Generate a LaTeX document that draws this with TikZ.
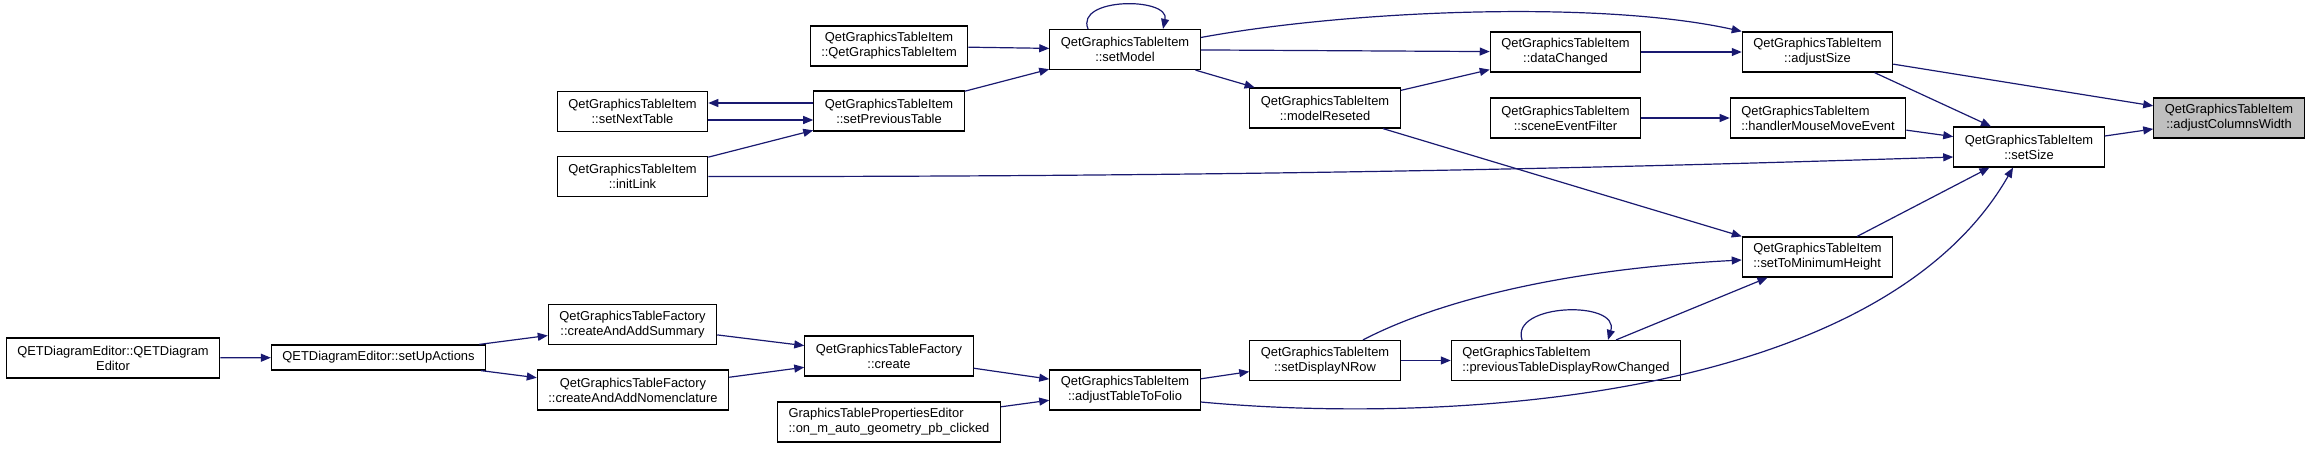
\documentclass[tikz,border=0pt]{standalone}
\usepackage{fontspec}
\setmainfont{Liberation Sans}
\usetikzlibrary{arrows.meta}
\definecolor{CallBlue}{RGB}{25,25,112}
\definecolor{CurGray}{RGB}{191,191,191}

\begin{document}
\begin{tikzpicture}[x=1pt, y=-1pt,
    fnbox/.style={draw=black, line width=1.2pt, fill=white, align=center,
        inner xsep=11pt, inner ysep=2pt, minimum height=40pt,
        font=\fontsize{12.9}{15}\selectfont},
    curbox/.style={fnbox, fill=CurGray},
    call/.style={CallBlue, line width=1.2pt, -{Triangle[length=10pt,width=8pt]}}]
    \useasboundingbox (0,0) rectangle (2311,448);

    % left part: the editor and the factory
    \node[fnbox] (qde) at (113,358) {QETDiagramEditor::QETDiagram\\Editor};
    \node[fnbox, minimum height=25pt] (sua) at (378.5,357.5) {QETDiagramEditor::setUpActions};
    \node[fnbox] (caas) at (632.5,324.5) {QetGraphicsTableFactory\\::createAndAddSummary};
    \node[fnbox] (caan) at (633,390) {QetGraphicsTableFactory\\::createAndAddNomenclature};
    \node[fnbox] (cre) at (889,356) {QetGraphicsTableFactory\\::create};
    \node[fnbox, align=left] (gtpe) at (889,422) {GraphicsTablePropertiesEditor\\::on\_m\_auto\_geometry\_pb\_clicked};
    \node[fnbox] (atf) at (1125,390) {QetGraphicsTableItem\\::adjustTableToFolio};
    \node[fnbox] (sdn) at (1325,360.5) {QetGraphicsTableItem\\::setDisplayNRow};
    \node[fnbox, align=left] (ptd) at (1566,360.5) {QetGraphicsTableItem\\::previousTableDisplayRowChanged};
    \node[fnbox, align=left] (stm) at (1817.5,257) {QetGraphicsTableItem\\::setToMinimumHeight};

    % upper part
    \node[fnbox] (snt) at (632.5,111.5) {QetGraphicsTableItem\\::setNextTable};
    \node[fnbox] (il) at (632.5,176.5) {QetGraphicsTableItem\\::initLink};
    \node[fnbox] (qgt) at (889,46) {QetGraphicsTableItem\\::QetGraphicsTableItem};
    \node[fnbox] (spt) at (889,111) {QetGraphicsTableItem\\::setPreviousTable};
    \node[fnbox] (sm) at (1125,49.5) {QetGraphicsTableItem\\::setModel};
    \node[fnbox] (mr) at (1325,108) {QetGraphicsTableItem\\::modelReseted};
    \node[fnbox] (dc) at (1565.5,52) {QetGraphicsTableItem\\::dataChanged};
    \node[fnbox] (sef) at (1565.5,118) {QetGraphicsTableItem\\::sceneEventFilter};
    \node[fnbox] (as) at (1817.5,52) {QetGraphicsTableItem\\::adjustSize};
    \node[fnbox, align=left] (hmm) at (1818,118) {QetGraphicsTableItem\\::handlerMouseMoveEvent};
    \node[fnbox] (ss) at (2029,147) {QetGraphicsTableItem\\::setSize};
    \node[curbox] (acw) at (2229,118) {QetGraphicsTableItem\\::adjustColumnsWidth};

    % calls
    \draw[call] (qde) -- (sua);
    \draw[call] (sua) -- (caas);
    \draw[call] (sua) -- (caan);
    \draw[call] (caas) -- (cre);
    \draw[call] (caan) -- (cre);
    \draw[call] (cre) -- (atf);
    \draw[call] (gtpe) -- (atf);
    \draw[call] (atf) -- (sdn);
    \draw[call] ([yshift=-12pt]atf.east) .. controls (1450,425) and (1880,400) .. ([xshift=-16pt]ss.south);
    \draw[call] (sdn) -- (ptd);
    \draw[call] ([xshift=38pt]sdn.north) .. controls (1430,305) and (1550,270) .. ([yshift=-3pt]stm.west);
    \draw[call] ([xshift=-44pt]ptd.north) .. controls (1510,303) and (1620,300) .. ([xshift=42pt]ptd.north);
    \draw[call] (ptd) -- (stm);
    \draw[call] ([xshift=58pt]mr.south) -- (stm.north west);
    \draw[call] (stm) -- (ss);

    \draw[call] ([yshift=-8.5pt]snt.east) -- ([yshift=-9pt]spt.west);
    \draw[call] ([yshift=8pt]spt.west) -- ([yshift=8.5pt]snt.east);
    \draw[call] (il) -- (spt);
    \draw[call] (il.east) .. controls (1300,177) and (1700,165) .. ([yshift=-10pt]ss.west);
    \draw[call] (qgt) -- (sm);
    \draw[call] (spt) -- (sm);
    \draw[call] ([xshift=-37pt]sm.north) .. controls (1075,-3) and (1170,-3) .. ([xshift=38pt]sm.north);
    \draw[call] (sm) -- (dc);
    \draw[call] (sm) -- (mr);
    \draw[call] ([yshift=12pt]sm.east) .. controls (1350,10) and (1600,0) .. (as.north west);
    \draw[call] (mr) -- (dc);
    \draw[call] (dc) -- (as);
    \draw[call] (sef) -- (hmm);
    \draw[call] (hmm) -- (ss);
    \draw[call] (as) -- (acw);
    \draw[call] ([xshift=57pt]as.south) -- ([xshift=-38pt]ss.north);
    \draw[call] (ss) -- (acw);
\end{tikzpicture}
\end{document}
